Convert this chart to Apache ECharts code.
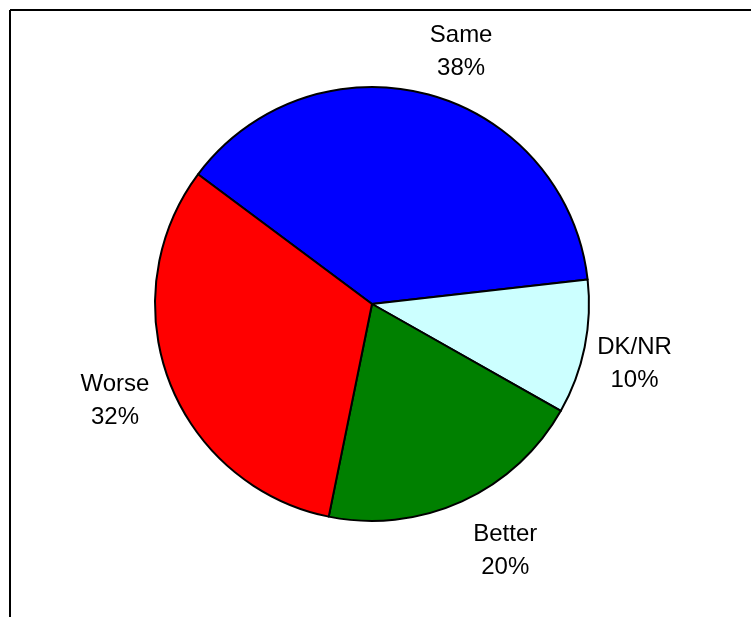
<!DOCTYPE html>
<html>
<head>
<meta charset="utf-8">
<script src="https://cdn.jsdelivr.net/npm/echarts@6/dist/echarts.min.js"></script>
<style>
html,body{margin:0;padding:0;background:#fff;}
#chart{width:751px;height:617px;}
</style>
</head>
<body>
<div id="chart"></div>
<script>
var categories = ['Same', 'DK/NR', 'Better', 'Worse'];
var values = [38, 10, 20, 32];
var colors = ['#0000FF', '#CCFFFF', '#008000', '#FF0000'];
var labelNudgeX = [18, -5, 20, -2];
var labelNudgeY = [11, 5, -2, -1];

var pieData = categories.map(function (c, i) {
  return { name: c, value: values[i], itemStyle: { color: colors[i] } };
});
var labelData = categories.map(function (c, i) {
  return { name: c, value: values[i] };
});

var chart = echarts.init(document.getElementById('chart'), null, { renderer: 'canvas' });
chart.setOption({
  animation: false,
  backgroundColor: '#ffffff',
  graphic: [
    { type: 'line', shape: { x1: 10, y1: 10, x2: 751, y2: 10 }, style: { stroke: '#000', lineWidth: 2 } },
    { type: 'line', shape: { x1: 10, y1: 10, x2: 10, y2: 617 }, style: { stroke: '#000', lineWidth: 2 } }
  ],
  series: [
    {
      type: 'pie',
      center: [372, 304],
      radius: [0, 217],
      startAngle: 143.3,
      clockwise: true,
      avoidLabelOverlap: false,
      silent: true,
      label: { show: false },
      labelLine: { show: false },
      itemStyle: { borderColor: '#000', borderWidth: 2 },
      data: pieData
    },
    {
      type: 'pie',
      center: [372, 304],
      radius: [0, 540],
      startAngle: 143.3,
      clockwise: true,
      silent: true,
      z: 1,
      itemStyle: { color: 'rgba(0,0,0,0)', borderWidth: 0 },
      label: {
        show: true,
        position: 'inside',
        formatter: '{b}\n{c}%',
        color: '#000',
        fontFamily: '"Liberation Sans", Arial, sans-serif',
        fontSize: 24,
        lineHeight: 33,
        align: 'center'
      },
      labelLine: { show: false },
      labelLayout: function (p) {
        return { dx: labelNudgeX[p.dataIndex], dy: labelNudgeY[p.dataIndex] };
      },
      data: labelData
    }
  ]
});
</script>
</body>
</html>
